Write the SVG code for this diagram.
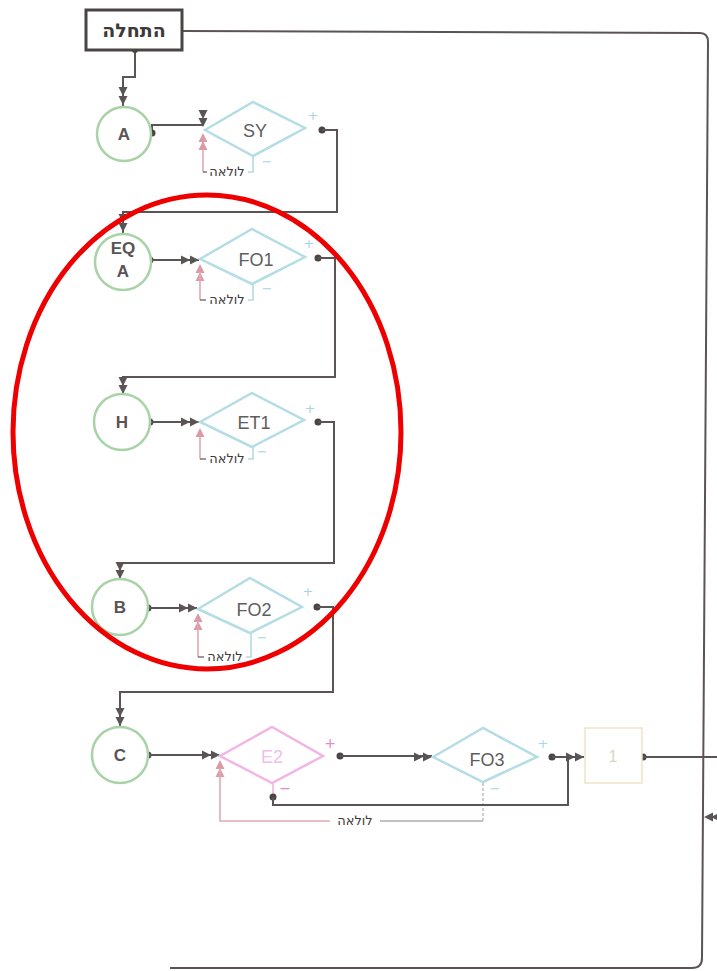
<svg xmlns="http://www.w3.org/2000/svg" xmlns:xlink="http://www.w3.org/1999/xlink" width="717" height="971" viewBox="0 0 717 971">
<style>
.bg{fill:#ffffff}
.c{fill:none;stroke:#5a5454;stroke-width:2}
.pk{fill:none;stroke:#e2a9b2;stroke-width:1.6}
.lb{fill:none;stroke:#b4dbe3;stroke-width:1.6}
.dot{fill:#4a4444}
.ah{fill:#5a5454}
.ahp{fill:#dc9aa6}
.circ{fill:#ffffff;stroke:#a8d3a6;stroke-width:2.5}
.dia{fill:#ffffff;stroke:#b4dde6;stroke-width:2.5}
.diap{fill:#ffffff;stroke:#f2b6e6;stroke-width:2.5}
.lbl{font-family:"Liberation Sans","DejaVu Sans",sans-serif;font-weight:bold;font-size:17px;fill:#5a5454;text-anchor:middle}
.dt{font-family:"Liberation Sans","DejaVu Sans",sans-serif;font-size:18px;fill:#5e5e5e;text-anchor:middle}
.loop{font-family:"DejaVu Sans","Liberation Sans",sans-serif;font-size:13px;fill:#3e3a3a;text-anchor:middle}
.sg{font-family:"DejaVu Sans",sans-serif;font-size:13px;fill:#a6d6e0;text-anchor:middle}
.sgp{font-family:"DejaVu Sans",sans-serif;font-size:14px;fill:#e08cd0;text-anchor:middle}
</style>
<defs>
<path id="ar" d="M-9,-4.5 L0,0 L-9,4.5 Z"/>
</defs>
<rect class="bg" x="0" y="0" width="717" height="971"/>

<g id="connectors">
<path class="c" d="M183,31 L700,33 Q708,33 708,42 L702,958 Q702,968 692,968 L170,968"/>
<path class="c" d="M135,50 V77 H123 V106"/>
<circle class="dot" cx="135" cy="50" r="3"/>
<use href="#ar" class="ah" transform="translate(123,96) rotate(90)"/>
<use href="#ar" class="ah" transform="translate(123,105) rotate(90)"/>

<path class="c" d="M152,133 V125 H203"/>
<circle class="dot" cx="152" cy="133" r="3.5"/>
<use href="#ar" class="ah" transform="translate(203,119) rotate(90)"/>
<use href="#ar" class="ah" transform="translate(203,127) rotate(90)"/>
<path class="pk" d="M203,141 V172"/>
<use href="#ar" class="ahp" transform="translate(203,133) rotate(-90)"/>
<use href="#ar" class="ahp" transform="translate(203,141) rotate(-90)"/>
<path class="c" style="stroke-width:1.2" d="M203,172 H207"/>
<path class="lb" d="M248,172 H253 V156"/>
<circle class="dot" cx="322" cy="130" r="3.5"/>
<path class="c" d="M322,130 H337 V212 H123 V233"/>
<use href="#ar" class="ah" transform="translate(123,223) rotate(90)"/>
<use href="#ar" class="ah" transform="translate(123,232) rotate(90)"/>

<circle class="dot" cx="150" cy="260" r="3.5"/>
<path class="c" d="M150,260 H199"/>
<use href="#ar" class="ah" transform="translate(190,260)"/>
<use href="#ar" class="ah" transform="translate(199,260)"/>
<use href="#ar" class="ahp" transform="translate(200,264) rotate(-90)"/>
<use href="#ar" class="ahp" transform="translate(200,272) rotate(-90)"/>
<path class="pk" d="M200,272 V300"/>
<path class="c" style="stroke-width:1.2" d="M200,300 H206"/>
<path class="lb" d="M248,300 H253 V284"/>
<circle class="dot" cx="318" cy="258" r="3.5"/>
<path class="c" d="M318,258 H335 V377 H123 V394"/>
<use href="#ar" class="ah" transform="translate(123,386) rotate(90)"/>
<use href="#ar" class="ah" transform="translate(123,394) rotate(90)"/>

<circle class="dot" cx="150" cy="422" r="3.5"/>
<path class="c" d="M150,422 H199"/>
<use href="#ar" class="ah" transform="translate(190,422)"/>
<use href="#ar" class="ah" transform="translate(199,422)"/>
<use href="#ar" class="ahp" transform="translate(200,428) rotate(-90)"/>
<path class="pk" d="M200,436 V459"/>
<path class="c" style="stroke-width:1.2" d="M200,459 H206"/>
<path class="lb" d="M248,459 H253 V447"/>
<circle class="dot" cx="318" cy="422" r="3.5"/>
<path class="c" d="M318,422 H334 V563 H120 V579"/>
<use href="#ar" class="ah" transform="translate(120,571) rotate(90)"/>
<use href="#ar" class="ah" transform="translate(120,579) rotate(90)"/>

<circle class="dot" cx="148" cy="608" r="3.5"/>
<path class="c" d="M148,608 H197"/>
<use href="#ar" class="ah" transform="translate(188,608)"/>
<use href="#ar" class="ah" transform="translate(197,608)"/>
<use href="#ar" class="ahp" transform="translate(198,613) rotate(-90)"/>
<use href="#ar" class="ahp" transform="translate(198,621) rotate(-90)"/>
<path class="pk" d="M198,621 V657"/>
<path class="c" style="stroke-width:1.2" d="M198,657 H204"/>
<path class="lb" d="M246,657 H251 V633"/>
<circle class="dot" cx="317" cy="607" r="3.5"/>
<path class="c" d="M317,607 H333 V692 H120 V727"/>
<use href="#ar" class="ah" transform="translate(120,717) rotate(90)"/>
<use href="#ar" class="ah" transform="translate(120,726) rotate(90)"/>

<circle class="dot" cx="148" cy="755" r="3.5"/>
<path class="c" d="M148,755 H219"/>
<use href="#ar" class="ah" transform="translate(211,755)"/>
<use href="#ar" class="ah" transform="translate(220,755)"/>
<use href="#ar" class="ahp" transform="translate(220,760) rotate(-90)"/>
<use href="#ar" class="ahp" transform="translate(220,768) rotate(-90)"/>
<path class="pk" d="M220,768 V821 H330"/>
<path class="c" style="stroke-width:1.2;stroke:#8a8282" d="M380,821 H483"/>
<path class="lb" d="M483,821 V782" style="stroke:#c8c0c0;stroke-dasharray:3 2"/>
<circle class="dot" cx="340" cy="756" r="3.5"/>
<path class="c" d="M340,756 H432"/>
<use href="#ar" class="ah" transform="translate(423,757)"/>
<use href="#ar" class="ah" transform="translate(432,757)"/>
<path class="pk" d="M273,783 V797" style="stroke:#f2b6e6"/>
<circle class="dot" cx="273" cy="797" r="3.5"/>
<path class="c" d="M273,797 V805 H568 V757"/>
<circle class="dot" cx="552" cy="757" r="3.5"/>
<path class="c" d="M552,757 H584"/>
<use href="#ar" class="ah" transform="translate(575,757)"/>
<use href="#ar" class="ah" transform="translate(584,757)"/>
<circle class="dot" cx="643" cy="757" r="3.5"/>
<path class="c" d="M643,757 H717"/>
<path class="c" d="M711,817 H717"/>
<use href="#ar" class="ah" transform="translate(704,817) rotate(180)"/>
<use href="#ar" class="ah" transform="translate(711,817) rotate(180)"/>
</g>

<g id="start">
<rect x="86" y="10" width="96" height="40" fill="#ffffff" stroke="#4a4444" stroke-width="3"/>
<text x="134" y="37" style="font-family:'DejaVu Sans','Liberation Sans',sans-serif;font-weight:bold;font-size:19px;fill:#3e3a3a;text-anchor:middle">התחלה</text>
</g>

<g id="node-A">
<circle class="circ" cx="124" cy="134" r="27"/>
<text class="lbl" x="124" y="140">A</text>
</g>
<g id="node-SY">
<polygon class="dia" points="205,130 253,102 305,128 253,156"/>
<text class="dt" x="255" y="137">SY</text>
<text class="sg" x="313" y="120">+</text>
<text class="sg" x="267" y="166">−</text>
<text class="loop" x="227" y="176">לולאה</text>
</g>

<g id="node-EQA">
<circle class="circ" cx="123" cy="262" r="28"/>
<text class="lbl" x="123" y="254">EQ</text>
<text class="lbl" x="123" y="277">A</text>
</g>
<g id="node-FO1">
<polygon class="dia" points="200,259 252,229 305,257 252,284"/>
<text class="dt" x="256" y="266">FO1</text>
<text class="sg" x="309" y="248">+</text>
<text class="sg" x="267" y="293">−</text>
<text class="loop" x="227" y="304">לולאה</text>
</g>

<g id="node-H">
<circle class="circ" cx="122" cy="422" r="28"/>
<text class="lbl" x="122" y="428">H</text>
</g>
<g id="node-ET1">
<polygon class="dia" points="200,422 252,393 304,420 252,447"/>
<text class="dt" x="254" y="429">ET1</text>
<text class="sg" x="310" y="413">+</text>
<text class="sg" x="262" y="456">−</text>
<text class="loop" x="227" y="463">לולאה</text>
</g>

<g id="node-B">
<circle class="circ" cx="120" cy="607" r="28"/>
<text class="lbl" x="120" y="613">B</text>
</g>
<g id="node-FO2">
<polygon class="dia" points="198,609 250,578 302,607 250,633"/>
<text class="dt" x="254" y="616">FO2</text>
<text class="sg" x="308" y="596">+</text>
<text class="sg" x="262" y="642">−</text>
<text class="loop" x="225" y="661">לולאה</text>
</g>

<g id="node-C">
<circle class="circ" cx="120" cy="755" r="28"/>
<text class="lbl" x="120" y="761">C</text>
</g>
<g id="node-E2">
<polygon class="diap" points="220,756 272,727 323,756 272,783"/>
<text class="dt" x="272" y="763" style="fill:#f0c0e8">E2</text>
<text class="sgp" x="330" y="748">+</text>
<text class="sgp" x="285" y="793">−</text>
<text class="loop" x="355" y="825">לולאה</text>
</g>
<g id="node-FO3">
<polygon class="dia" points="433,757 483,728 537,757 483,782"/>
<text class="dt" x="487" y="766">FO3</text>
<text class="sg" x="543" y="748">+</text>
<text class="sg" x="495" y="793">−</text>
</g>
<g id="node-1">
<rect x="585" y="728" width="57" height="55" fill="#ffffff" stroke="#efe3c6" stroke-width="1.5"/>
<text x="613" y="762" style="font-family:'Liberation Sans',sans-serif;font-size:16px;fill:#ddd5c0;text-anchor:middle">1</text>
</g>

<g id="highlight">
<ellipse cx="207" cy="432" rx="194" ry="237" fill="none" stroke="#ee0000" stroke-width="5"/>
</g>
</svg>
